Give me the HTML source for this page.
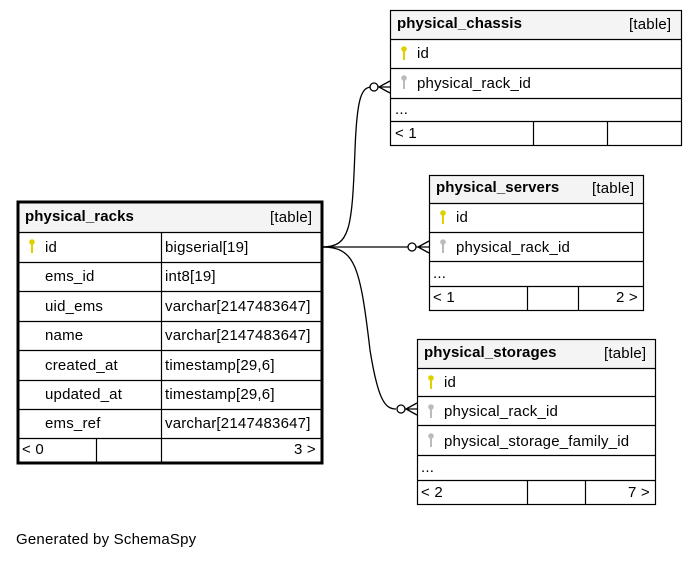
<!DOCTYPE html>
<html><head><meta charset="utf-8"><style>
body{margin:0;background:#fff;}
svg text{font-family:"Liberation Sans","DejaVu Sans",sans-serif;font-size:15px;letter-spacing:0.2px;fill:#000;}
.b{font-weight:bold;letter-spacing:0.1px;}
</style></head><body>
<svg width="697" height="559" viewBox="0 0 697 559" xmlns="http://www.w3.org/2000/svg">
<defs>
<g id="ky"><circle cx="0" cy="-3" r="2.8" fill="#e0d000"/><rect x="-1" y="-1" width="2" height="9" fill="#e0d000"/></g>
<g id="kg"><circle cx="0" cy="-3" r="2.8" fill="#bbb"/><rect x="-1" y="-1" width="2" height="9" fill="#bbb"/></g>
</defs>
<g fill="none" stroke="#000" stroke-width="1.3">
<path d="M322 247 C350 247 352 230 355 150 C357 95 362 87 372 87"/>
<path d="M322 247 L408 247"/>
<path d="M322 247 C355 247 360 265 370 350 C378 400 385 409 396 409"/>
<circle cx="374" cy="87" r="4" fill="#fff"/>
<circle cx="412" cy="247" r="4" fill="#fff"/>
<circle cx="401" cy="409" r="4" fill="#fff"/>
<path d="M378 87 L390 87 M390 81 L379 87 L390 93"/>
<path d="M416 247 L429 247 M429 241 L418 247 L429 253"/>
<path d="M405 409 L417 409 M417 403 L406 409 L417 415"/>
</g>
<rect x="390.5" y="10.5" width="291" height="29" fill="#f4f4f4" stroke="#000"/>
<g fill="none" stroke="#000" stroke-width="1.2">
<rect x="390.5" y="10.5" width="291" height="135"/>
<path d="M390 39.5H682M390 68.5H682M390 98.5H682M390 121.5H682M533.5 121V146M607.5 121V146"/>
</g>
<text x="397" y="28" class="b">physical_chassis</text><text x="629" y="29">[table]</text>
<use href="#ky" x="404" y="52"/><text x="417" y="58">id</text>
<use href="#kg" x="404" y="81"/><text x="417" y="88">physical_rack_id</text>
<text x="395" y="114">...</text><text x="395" y="138">&lt; 1</text>
<rect x="429.5" y="175.5" width="214" height="28" fill="#f4f4f4" stroke="#000"/>
<g fill="none" stroke="#000" stroke-width="1.2">
<rect x="429.5" y="175.5" width="214" height="135"/>
<path d="M429 203.5H644M429 232.5H644M429 261.5H644M429 286.5H644M527.5 286V310M578.5 286V310"/>
</g>
<text x="436" y="192" class="b">physical_servers</text><text x="592" y="193">[table]</text>
<use href="#ky" x="443" y="216"/><text x="456" y="222">id</text>
<use href="#kg" x="443" y="245"/><text x="456" y="252">physical_rack_id</text>
<text x="433" y="278">...</text><text x="433" y="302">&lt; 1</text><text x="616" y="302">2 &gt;</text>
<rect x="417.5" y="339.5" width="238" height="29" fill="#f4f4f4" stroke="#000"/>
<g fill="none" stroke="#000" stroke-width="1.2">
<rect x="417.5" y="339.5" width="238" height="165"/>
<path d="M417 368.5H656M417 396.5H656M417 425.5H656M417 455.5H656M417 480.5H656M527.5 480V505M585.5 480V505"/>
</g>
<text x="424" y="357" class="b">physical_storages</text><text x="604" y="358">[table]</text>
<use href="#ky" x="431" y="381"/><text x="444" y="387">id</text>
<use href="#kg" x="431" y="410"/><text x="444" y="416">physical_rack_id</text>
<use href="#kg" x="431" y="439"/><text x="444" y="446">physical_storage_family_id</text>
<text x="421" y="472">...</text><text x="421" y="497">&lt; 2</text><text x="628" y="497">7 &gt;</text>
<rect x="18" y="202" width="304" height="30" fill="#f4f4f4"/>
<g fill="none" stroke="#000" stroke-width="1.2">
<path d="M17 232.5H322M17 262.5H322M17 291.5H322M17 321.5H322M17 350.5H322M17 380.5H322M17 409.5H322M17 438.5H322M161.5 232V462M96.5 438V462"/>
</g>
<rect x="18" y="202" width="304" height="261" fill="none" stroke="#000" stroke-width="3"/>
<text x="25" y="221" class="b">physical_racks</text><text x="270" y="222">[table]</text>
<use href="#ky" x="32" y="245"/><text x="45" y="252">id</text><text x="165" y="252">bigserial[19]</text>
<text x="45" y="281">ems_id</text><text x="165" y="281">int8[19]</text>
<text x="45" y="311">uid_ems</text><text x="165" y="311">varchar[2147483647]</text>
<text x="45" y="340">name</text><text x="165" y="340">varchar[2147483647]</text>
<text x="45" y="370">created_at</text><text x="165" y="370">timestamp[29,6]</text>
<text x="45" y="399">updated_at</text><text x="165" y="399">timestamp[29,6]</text>
<text x="45" y="428">ems_ref</text><text x="165" y="428">varchar[2147483647]</text>
<text x="22" y="454">&lt; 0</text><text x="294" y="454">3 &gt;</text>
<text x="16" y="544">Generated by SchemaSpy</text>
</svg>
</body></html>
